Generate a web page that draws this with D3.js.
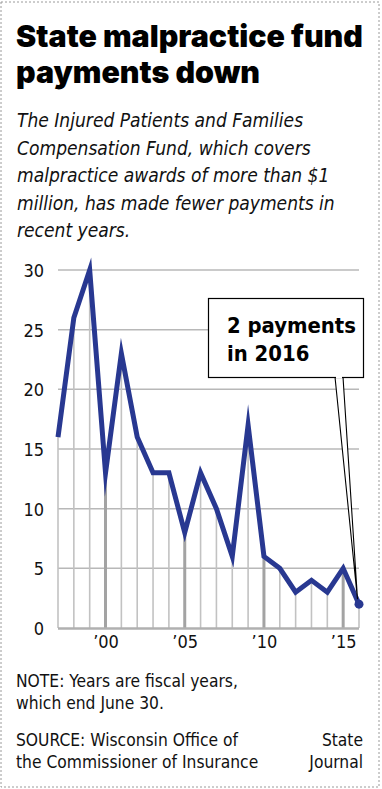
<!DOCTYPE html>
<html>
<head>
<meta charset="utf-8">
<script src="https://cdn.jsdelivr.net/npm/d3@7"></script>
<style>
  html, body { margin: 0; padding: 0; background: #fff; }
  svg { display: block; }
</style>
</head>
<body>
<svg id="chart" width="382" height="789"></svg>
<script>
// ---- data ----
const years = [1997,1998,1999,2000,2001,2002,2003,2004,2005,2006,2007,2008,2009,2010,2011,2012,2013,2014,2015,2016];
const payments = [16,26,30,13,23,16,13,13,8,13,10,6,17,6,5,3,4,3,5,2];
const yTicks = [0,5,10,15,20,25,30];
const xTickYears = [2000,2005,2010,2015];
const xTickLabels = ["\u201900","\u201905","\u201910","\u201915"];
const titleLines = ["State malpractice fund","payments down"];
const subtitleLines = ["The Injured Patients and Families","Compensation Fund, which covers","malpractice awards of more than $1","million, has made fewer payments in","recent years."];
const noteLines = ["NOTE: Years are fiscal years,","which end June 30."];
const sourceLines = ["SOURCE: Wisconsin Office of","the Commissioner of Insurance"];
const creditLines = ["State","Journal"];
const annotationLines = ["2 payments","in 2016"];

const svg = d3.select("#chart");
const sansFont = "'DejaVu Sans Condensed', 'Liberation Sans Narrow', sans-serif";

// border
svg.append("rect").attr("x",1).attr("y",2).attr("width",378).attr("height",785)
  .attr("fill","none").attr("stroke","#9a9a9a").attr("stroke-width",1).attr("stroke-dasharray","2,2");

function fitSize(textSel, target){
  const w = textSel.node().getComputedTextLength();
  const fs = parseFloat(textSel.attr("font-size"));
  return fs * target / w;
}

// title
const title = svg.append("g");
const t0 = title.append("text").attr("font-family","Inter, Roboto, sans-serif")
  .attr("font-weight",900).attr("font-size",26).text(titleLines[0]);
const titleSize = fitSize(t0, 347);
t0.remove();
titleLines.forEach((l,i)=>{
  title.append("text").attr("x",16).attr("y",47+i*36).attr("font-family","Inter, Roboto, sans-serif")
    .attr("font-weight",900).attr("font-size",titleSize).attr("fill","#000").text(l);
});

// subtitle
const sub = svg.append("g");
const s0 = sub.append("text").attr("font-family",sansFont).attr("font-style","italic")
  .attr("font-size",20).text(subtitleLines[3]);
const subSize = fitSize(s0, 318);
s0.remove();
subtitleLines.forEach((l,i)=>{
  sub.append("text").attr("x",17).attr("y",127+i*27.5).attr("font-family",sansFont)
    .attr("font-style","italic").attr("font-size",subSize).attr("fill","#111").text(l);
});

// scales
const x = d3.scaleLinear().domain([1997,2016]).range([58,359]);
const y = d3.scaleLinear().domain([0,30]).range([628,270]);

// horizontal gridlines
svg.append("g").selectAll("line").data(yTicks.filter(d=>d>0)).join("line")
  .attr("x1",x(1997)).attr("x2",x(2016)).attr("y1",d=>y(d)).attr("y2",d=>y(d))
  .attr("stroke","#b8b8b8").attr("stroke-width",1.5);

// drop lines
svg.append("g").selectAll("line").data(years.map((yr,i)=>({yr, v:payments[i]}))).join("line")
  .attr("x1",d=>x(d.yr)).attr("x2",d=>x(d.yr)).attr("y1",y(0)).attr("y2",d=>y(d.v))
  .attr("stroke",d=>xTickYears.includes(d.yr)?"#a3a3a3":"#c2c2c2")
  .attr("stroke-width",d=>xTickYears.includes(d.yr)?3:1.6);

// baseline
svg.append("line").attr("x1",x(1997)).attr("x2",x(2016)).attr("y1",y(0)+0.5).attr("y2",y(0)+0.5)
  .attr("stroke","#b0b0b0").attr("stroke-width",2.5);

// y axis labels
const yAxis = d3.axisLeft(y).tickValues(yTicks).tickSize(0).tickPadding(0);
const yg = svg.append("g").attr("transform","translate(44,0)").call(yAxis);
yg.select(".domain").remove();
yg.selectAll("text").attr("font-family",sansFont).attr("font-size",18).attr("fill","#111").attr("dy","0.36em");

// x axis labels
const xAxis = d3.axisBottom(x).tickValues(xTickYears).tickFormat((d,i)=>xTickLabels[i]).tickSize(0).tickPadding(0);
const xg = svg.append("g").attr("transform","translate(0,634)").call(xAxis);
xg.select(".domain").remove();
xg.selectAll("text").attr("font-family",sansFont).attr("font-size",18).attr("fill","#111").attr("dy","0.8em");

// line
const line = d3.line().x((d,i)=>x(years[i])).y(d=>y(d));
svg.append("path").datum(payments).attr("d",line).attr("fill","none")
  .attr("stroke","#283891").attr("stroke-width",5).attr("stroke-linejoin","miter").attr("stroke-miterlimit",10);

// last point
const lastI = years.length-1;
svg.append("circle").attr("cx",x(years[lastI])).attr("cy",y(payments[lastI])).attr("r",4.5).attr("fill","#283891");

// annotation wedge
const px = x(years[lastI]) - 1.5, py = y(payments[lastI]) - 5;
svg.append("path").attr("d",`M335,377 L${px},${py} L343,377 Z`).attr("fill","#fff").attr("stroke","#000").attr("stroke-width",1.1);

// annotation box
svg.append("rect").attr("x",208.5).attr("y",298.5).attr("width",155).attr("height",79)
  .attr("fill","#fff").attr("stroke","#000").attr("stroke-width",1.2);
svg.append("rect").attr("x",336).attr("y",375).attr("width",6).attr("height",3).attr("fill","#fff");
const a0 = svg.append("text").attr("font-family",sansFont).attr("font-weight",700).attr("font-size",22).text(annotationLines[0]);
const annSize = fitSize(a0, 129);
a0.remove();
annotationLines.forEach((l,i)=>{
  svg.append("text").attr("x",227).attr("y",333+i*28).attr("font-family",sansFont)
    .attr("font-weight",700).attr("font-size",annSize).attr("fill","#000").text(l);
});

// footer
const f0 = svg.append("text").attr("font-family",sansFont).attr("font-size",18).text(sourceLines[0]);
const footSize = fitSize(f0, 222);
f0.remove();
noteLines.forEach((l,i)=>{
  svg.append("text").attr("x",16).attr("y",687+i*21.5).attr("font-family",sansFont)
    .attr("font-size",footSize).attr("fill","#111").text(l);
});
sourceLines.forEach((l,i)=>{
  svg.append("text").attr("x",16).attr("y",746+i*22).attr("font-family",sansFont)
    .attr("font-size",footSize).attr("fill","#111").text(l);
});
creditLines.forEach((l,i)=>{
  svg.append("text").attr("x",363).attr("y",746+i*22).attr("text-anchor","end").attr("font-family",sansFont)
    .attr("font-size",footSize).attr("fill","#111").text(l);
});
</script>
</body>
</html>
